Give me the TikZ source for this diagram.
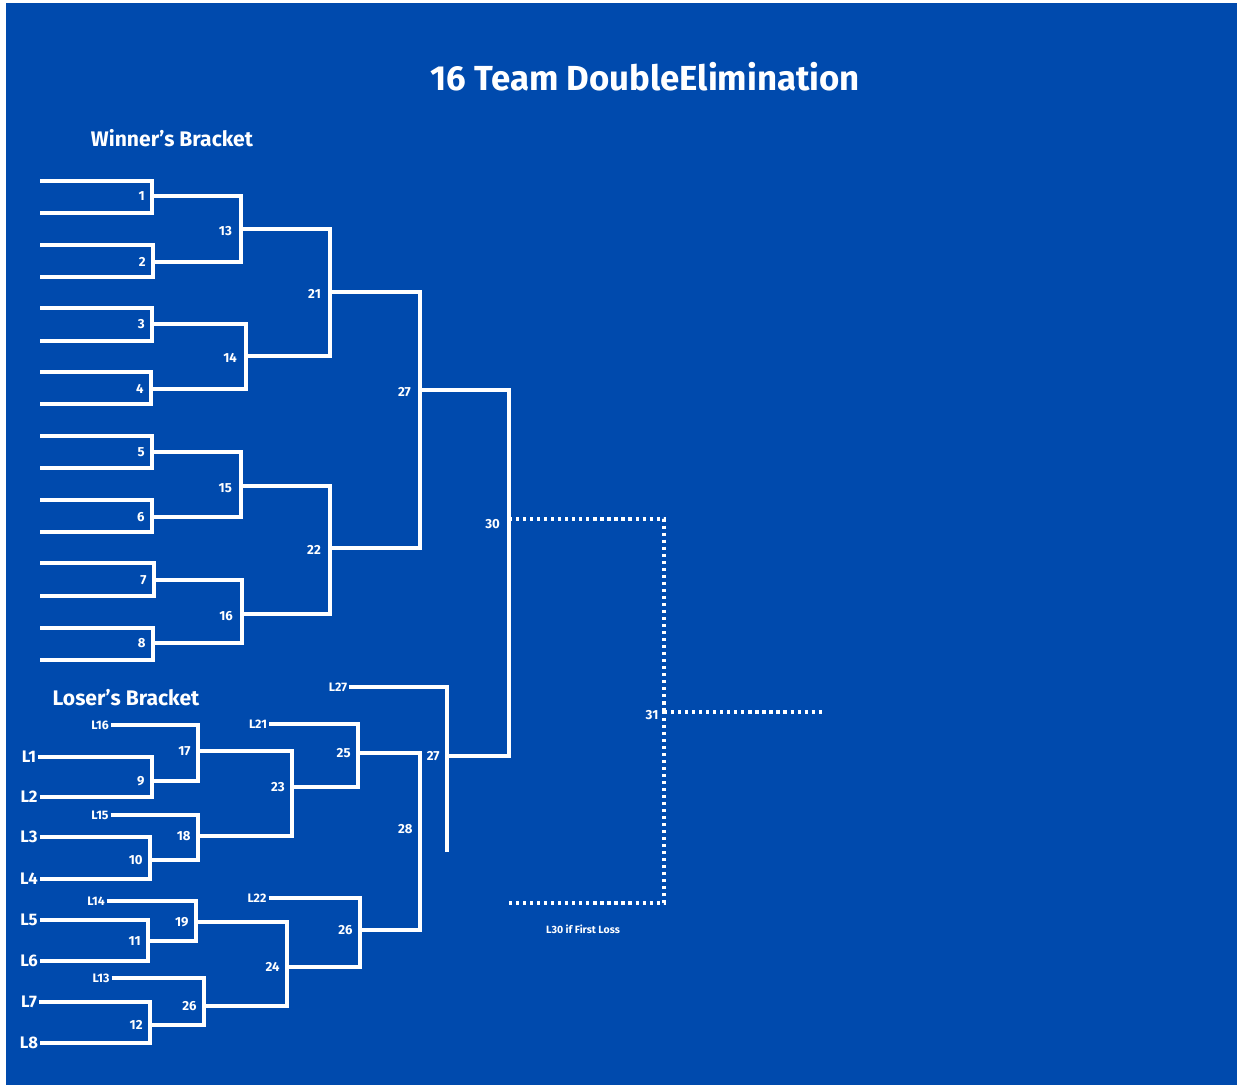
\documentclass[tikz,border=0pt]{standalone}
\usepackage{fontspec}
\setmainfont{Fira Sans}
\usepackage{xcolor}
\usepackage{tikz}
\usetikzlibrary{positioning}
\definecolor{bkblue}{RGB}{0,74,173}
\tikzset{
  bkline/.style={line width=2pt, draw=white},
  bkdot/.style={line width=2pt, draw=white, dash pattern=on 1.8pt off 2.2pt},
  bknum/.style={text=white, font=\bfseries\fontsize{7.5}{8}\selectfont, inner sep=1pt},
  bkteam/.style={text=white, font=\bfseries\fontsize{9.5}{10}\selectfont, inner sep=1pt},
  bksmall/.style={text=white, font=\bfseries\fontsize{7}{8}\selectfont, inner sep=1pt},
  bkhead/.style={text=white, font=\bfseries\fontsize{12}{14}\selectfont, inner sep=0pt},
  bktitle/.style={text=white, font=\bfseries\fontsize{19.8}{22}\selectfont, inner sep=0pt},
}

\begin{document}
\begin{tikzpicture}[x=0.02cm, y=-0.02cm]
\useasboundingbox (0,0) rectangle (1237,1088);
\fill[white] (0,0) rectangle (1237,1088);
\fill[bkblue] (6,3) rectangle (1237,1085);

\node[bktitle] (title) at (645,77) {16 Team DoubleElimination};
\node[bkhead] (whead) at (172,138) {Winner’s Bracket};
\node[bkhead] (lhead) at (126,698) {Loser’s Bracket};

% winner's bracket
\foreach \m/\x/\y in {1/152/196, 2/153/262, 3/152/324, 4/151/389,
                      5/152/452, 6/152/517, 7/154/580, 8/153/643,
                      13/241/229, 14/246/356, 15/241/486, 16/242/614,
                      21/330/292, 22/330/548, 27/420/390, 30/509/519}
  \coordinate (w\m) at (\x,\y);
\foreach \m/\ya/\yb in {1/181/213, 2/245/277, 3/308/341, 4/372/404,
                        5/436/468, 6/500/532, 7/563/596, 8/628/660} {
  \coordinate (t\m a) at (40,\ya);
  \coordinate (t\m b) at (40,\yb);
  \draw[bkline] (t\m a) -| (w\m);
  \draw[bkline] (t\m b) -| (w\m);
  \node[bknum, left=3pt of w\m] (nw\m) {\m};
}
\foreach \a/\b/\p in {1/2/13, 3/4/14, 5/6/15, 7/8/16, 13/14/21, 15/16/22, 21/22/27} {
  \draw[bkline] (w\a) -| (w\p);
  \draw[bkline] (w\b) -| (w\p);
}
\foreach \m in {13,14,15,16,21,22,27}
  \node[bknum, left=4pt of w\m, yshift=-1pt] (nw\m) {\m};
\draw[bkline] (w27) -| (w30);
\node[bknum, left=4pt of w30, yshift=-3pt] (nw30) {30};

% loser's bracket
\foreach \m/\x/\y in {9/152/781, 10/150/860, 11/148/941, 12/150/1025,
                      17/198/751, 18/198/836, 19/196/922, 20/204/1006,
                      23/292/787, 24/287/967, 25/358/753, 26/360/930,
                      28/420/829, 27/447/756}
  \coordinate (l\m) at (\x,\y);
\foreach \t/\y/\m in {1/757/9, 2/797/9, 3/837/10, 4/879/10,
                      5/920/11, 6/961/11, 7/1002/12, 8/1043/12} {
  \node[bkteam] (nL\t) at (29,\y) {L\t};
  \draw[bkline] (nL\t) -| (l\m);
}
\foreach \t/\x/\y/\m in {16/100/725/17, 15/100/815/18, 14/96/901/19, 13/101/978/20,
                         21/258/724/25, 22/257/898/26, 27/338/687/27}
  \node[bksmall] (nL\t) at (\x,\y) {L\t};
\draw[bkline] (nL16) -| (l17);
\draw[bkline] (nL15) -| (l18);
\draw[bkline] (nL14) -| (l19);
\draw[bkline] (nL13) -| (l20);
\draw[bkline] (nL21) -| (l25);
\draw[bkline] (nL22) -| (l26);
\draw[bkline] (nL27) -| (l27);
\foreach \a/\p in {9/17, 10/18, 11/19, 12/20, 17/23, 18/23, 19/24, 20/24,
                   23/25, 24/26, 25/28, 26/28}
  \draw[bkline] (l\a) -| (l\p);
\coordinate (e27) at (447,852);
\draw[bkline] (l27) -- (e27);
\draw[bkline] (l27) -| (w30);
\foreach \m/\s in {9/9, 10/10, 11/11, 12/12, 17/17, 18/18, 19/19, 20/26,
                   23/23, 24/24, 25/25, 26/26, 27/27, 28/28}
  \node[bknum, left=3pt of l\m] (nl\m) {\s};

% final
\coordinate (w31) at (664,712);
\coordinate (l30) at (509,903);
\coordinate (fin) at (822,712);
\draw[bkdot] (w30) -| (w31);
\draw[bkdot] (l30) -| (w31);
\draw[bkdot] (w31) -- (fin);
\node[bknum, left=2pt of w31, yshift=-2pt] (nw31) {31};
\node[text=white, font=\bfseries\fontsize{6}{7}\selectfont] (l30note) at (583,929) {L30 if First Loss};
\end{tikzpicture}
\end{document}
